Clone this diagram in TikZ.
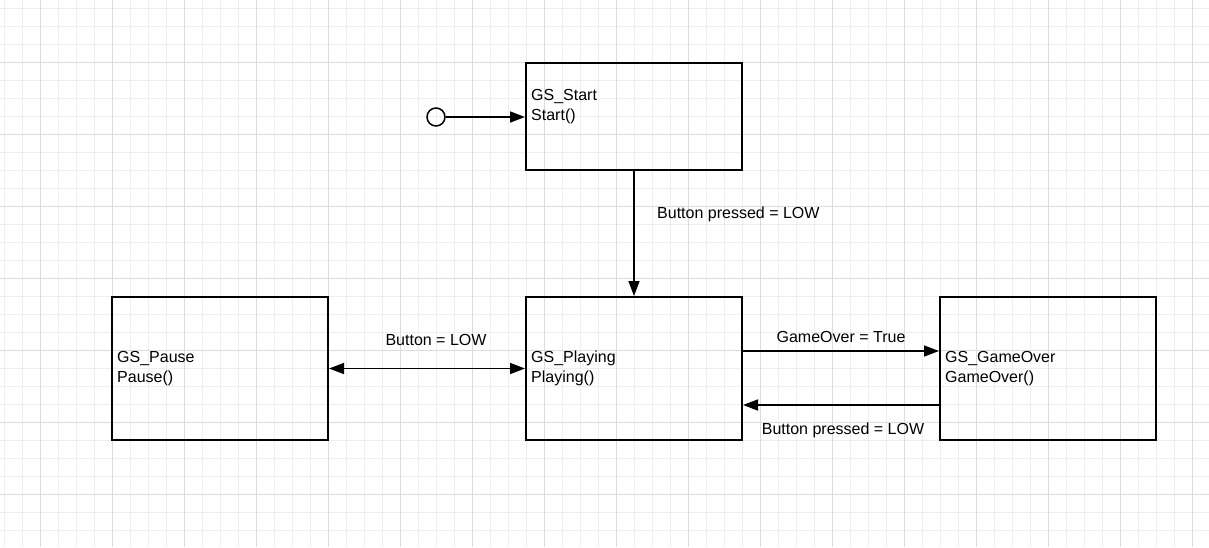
\documentclass[tikz,border=0pt]{standalone}
\usepackage{fontspec}
\setmainfont{Liberation Sans}
\usetikzlibrary{arrows.meta}
\definecolor{gridminor}{HTML}{EEEEEE}
\definecolor{gridmajor}{HTML}{DCDCDC}
\tikzset{
	state/.style={draw, line width=2pt, minimum width=216pt, inner sep=0pt},
	statetext/.style={align=left, inner sep=0pt, anchor=north west, font=\fontsize{16}{20}\selectfont},
	edgetext/.style={inner sep=0pt, font=\fontsize{16}{20}\selectfont},
	trans/.style={line width=1.5pt, -{Triangle[length=15pt,width=11pt]}},
	bitrans/.style={line width=1.5pt, {Triangle[length=15pt,width=11pt]}-{Triangle[length=15pt,width=11pt]}}
}
\begin{document}
\begin{tikzpicture}[x=1pt, y=-1pt]
	\useasboundingbox[fill=white] (0,0) rectangle (1209,547);
	\foreach \x in {4,22,...,1208} \draw[gridminor, line width=1pt] (\x,0) -- (\x,547);
	\foreach \y in {8,26,...,546} \draw[gridminor, line width=1pt] (0,\y) -- (1209,\y);
	\foreach \x in {40,112,...,1208} \draw[gridmajor, line width=1pt] (\x,0) -- (\x,547);
	\foreach \y in {62,134,...,546} \draw[gridmajor, line width=1pt] (0,\y) -- (1209,\y);
		\node[state, minimum height=107pt](start) at (634,116.5){};
		\node[state, minimum height=143pt](pause) at (220,368.5){};
		\node[state, minimum height=143pt](playing) at (634,368.5){};
		\node[state, minimum height=143pt](gameover) at (1048,368.5){};
		\node[statetext](starttxt) at (531,89.5){GS\_Start\\Start()};
		\node[statetext](pausetxt) at (117,351){GS\_Pause\\Pause()};
		\node[statetext](playingtxt) at (531,351){GS\_Playing\\Playing()};
		\node[statetext](gameovertxt) at (945,351){GS\_GameOver\\GameOver()};
		\node[draw, circle, line width=1.5pt, minimum size=18pt, inner sep=0pt](init) at (436,117){};
			\draw[trans](init.east) to (init -| start.west);
			\draw[trans](start.south) to (playing.north);
			\draw[bitrans](pause.east) to (playing.west);
			\draw[trans]([yshift=17.5pt]playing.east) to ([yshift=17.5pt]gameover.west);
			\draw[trans]([yshift=-36.5pt]gameover.west) to ([yshift=-36.5pt]playing.east);
		\node[edgetext, anchor=west](pressedlbl) at (657,214){Button pressed = LOW};
		\node[edgetext](buttonlbl) at (436,340){Button = LOW};
		\node[edgetext](gameoverlbl) at (841,337){GameOver = True};
		\node[edgetext](backlbl) at (843,430){Button pressed = LOW};
\end{tikzpicture}
\end{document}
